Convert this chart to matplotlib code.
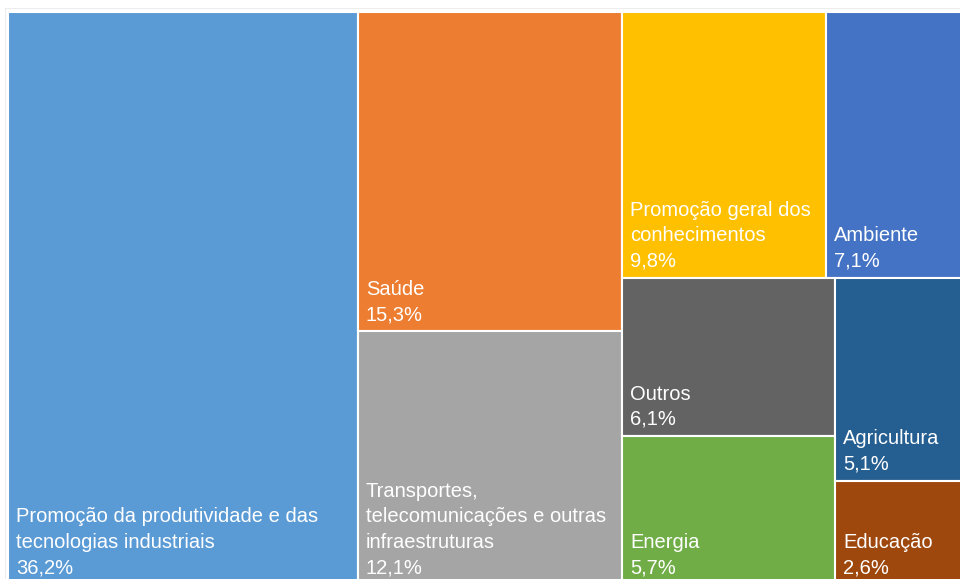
import matplotlib
matplotlib.use("Agg")
import matplotlib.pyplot as plt
from matplotlib.patches import Rectangle

labels = [
    "Promoção da produtividade e das\ntecnologias industriais",
    "Saúde",
    "Transportes,\ntelecomunicações e outras\ninfraestruturas",
    "Promoção geral dos\nconhecimentos",
    "Ambiente",
    "Outros",
    "Energia",
    "Agricultura",
    "Educação",
]
values = [36.2, 15.3, 12.1, 9.8, 7.1, 6.1, 5.7, 5.1, 2.6]
colors = ["#5B9BD5", "#ED7D31", "#A5A5A5", "#FFC000", "#4472C4",
          "#636363", "#70AD47", "#255E91", "#9E480E"]

# layout tree: ('h', children) splits horizontally (side by side), ('v', children) stacks top->bottom
tree = ('h', [0, ('v', [1, 2]), ('v', [('h', [3, 4]), ('h', [('v', [5, 6]), ('v', [7, 8])])])])


def total(node):
    if isinstance(node, int):
        return values[node]
    return sum(total(c) for c in node[1])


rects = {}


def layout(node, x, y, w, h):
    if isinstance(node, int):
        rects[node] = (x, y, w, h)
        return
    kind, children = node
    tot = total(node)
    if kind == 'h':
        cx = x
        for c in children:
            cw = w * total(c) / tot
            layout(c, cx, y, cw, h)
            cx += cw
    else:
        cy = y + h  # start from top
        for c in children:
            ch = h * total(c) / tot
            cy -= ch
            layout(c, x, cy, w, ch)


W, H = 966.0, 572.0
layout(tree, 0, 0, W, H)

fig = plt.figure(figsize=(9.6, 5.79), dpi=100)
ax = fig.add_axes([8 / 960, 1 - 584 / 579, W / 960, H / 579])
ax.set_xlim(0, W)
ax.set_ylim(0, H)
ax.axis('off')

for i, (x, y, w, h) in rects.items():
    ax.add_patch(Rectangle((x, y), w, h, facecolor=colors[i], edgecolor='white', linewidth=1.5))
    txt = f"{labels[i]}\n{values[i]:.1f}%".replace('.', ',')
    ax.annotate(txt, xy=(x, y), xytext=(8 * 0.72, 11 * 0.72), textcoords='offset points',
                ha='left', va='baseline', color='white', fontsize=14.5,
                family=['Liberation Sans', 'DejaVu Sans'], linespacing=1.43, annotation_clip=False)

# faint outer border of the chart area
fig.add_artist(plt.Line2D([5 / 960, 1.0], [1 - 8 / 579, 1 - 8 / 579], color='#EDEDED', lw=0.8))
fig.add_artist(plt.Line2D([5 / 960, 5 / 960], [0, 1 - 8 / 579], color='#EDEDED', lw=0.8))

fig.savefig("out.png", dpi=100)
